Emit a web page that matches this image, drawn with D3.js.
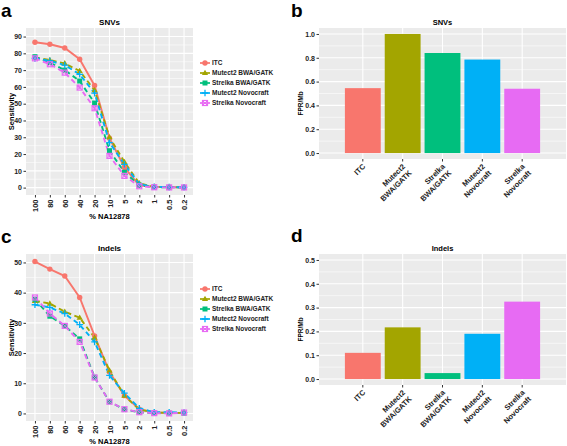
<!DOCTYPE html>
<html><head><meta charset="utf-8">
<script src="https://cdn.jsdelivr.net/npm/d3@7"></script>
<style>body{margin:0;background:#fff}svg{display:block;font-family:"Liberation Sans",Arial,sans-serif}</style>
</head><body><svg id="c" width="567" height="446"></svg>
<script>
const pct = ["100","80","60","40","20","10","5","2","1","0.5","0.2"];
const methods = ["ITC","Mutect2 BWA/GATK","Strelka BWA/GATK","Mutect2 Novocraft","Strelka Novocraft"];
const barLabels = [["ITC"],["Mutect2","BWA/GATK"],["Strelka","BWA/GATK"],["Mutect2","Novocraft"],["Strelka","Novocraft"]];
const colors = ["#F8766D","#A3A500","#00BF7D","#00B0F6","#E76BF3"];
const shapes = ["circle","triangle","square","plus","boxx"];

const snvITC    = [86.6,85.4,83.2,76.5,60.8,29.5,12.0,1.2,0.5,0.3,0.2];
const snvM2BWA  = [77.5,76.0,74.0,69.5,58.0,30.0,15.3,2.5,0.5,0.3,0.2];
const snvStBWA  = [78.0,74.5,70.0,63.5,50.4,22.0,9.2,1.5,0.3,0.2,0.1];
const snvM2Novo = [77.0,75.5,73.0,67.5,56.3,26.8,13.9,2.0,0.5,0.3,0.2];
const snvStNovo = [77.0,73.5,68.5,59.6,47.3,18.9,7.0,0.8,0.2,0.1,0.1];

const indITC    = [50.3,47.8,45.5,38.4,25.7,13.7,5.9,1.4,0.3,0.2,0.2];
const indM2BWA  = [37.3,36.4,33.7,31.7,25.1,14.2,5.9,1.3,0.3,0.2,0.2];
const indStBWA  = [37.8,32.2,29.0,24.7,12.0,3.9,1.3,0.4,0.1,0.1,0.1];
const indM2Novo = [36.0,35.1,33.1,29.4,23.7,12.6,6.7,1.7,0.4,0.4,0.3];
const indStNovo = [38.4,33.1,29.0,23.7,11.9,3.9,1.4,0.4,0.1,0.0,0.3];

const fprSNV   = [0.545,1.0,0.84,0.785,0.54];
const fprIndel = [0.11,0.217,0.025,0.19,0.325];

const snvTicks = [0,10,20,30,40,50,60,70,80,90];
const indTicks = [0,10,20,30,40,50];
const fprSNVTicks = [0,0.2,0.4,0.6,0.8,1.0];
const fprIndTicks = [0,0.1,0.2,0.3,0.4,0.5];

const svg = d3.select("#c");
const BG="#EBEBEB";

function letter(t,x,y){
  svg.append("text").attr("x",x).attr("y",y).attr("font-size",19).attr("font-weight","bold").attr("fill","#000").text(t);
}

function drawShape(g,shape,x,y,col){
  if(shape==="circle") g.append("circle").attr("cx",x).attr("cy",y).attr("r",2.7).attr("fill",col);
  else if(shape==="triangle") g.append("path").attr("d",`M${x},${y-3.3}L${x+3.1},${y+2.1}L${x-3.1},${y+2.1}Z`).attr("fill",col);
  else if(shape==="square") g.append("rect").attr("x",x-2.5).attr("y",y-2.5).attr("width",5).attr("height",5).attr("fill",col);
  else if(shape==="plus") g.append("path").attr("d",`M${x-3.3},${y}H${x+3.3}M${x},${y-3.3}V${y+3.3}`).attr("stroke",col).attr("stroke-width",1.3);
  else { g.append("rect").attr("x",x-2.5).attr("y",y-2.5).attr("width",5).attr("height",5).attr("fill","none").attr("stroke",col).attr("stroke-width",1.2);
         g.append("path").attr("d",`M${x-2.5},${y-2.5}L${x+2.5},${y+2.5}M${x+2.5},${y-2.5}L${x-2.5},${y+2.5}`).attr("stroke",col).attr("stroke-width",1); }
}

function yAxisGrid(g,y,x0,x1,ticks,fmt){
  for(let i=0;i<ticks.length-1;i++){
    const m=(ticks[i]+ticks[i+1])/2;
    g.append("line").attr("x1",x0).attr("x2",x1).attr("y1",y(m)).attr("y2",y(m)).attr("stroke","#fff").attr("stroke-width",0.55);
  }
  ticks.forEach(t=>{
    g.append("line").attr("x1",x0).attr("x2",x1).attr("y1",y(t)).attr("y2",y(t)).attr("stroke","#fff").attr("stroke-width",1.1);
  });
  const ax=g.append("g").attr("transform",`translate(${x0},0)`).call(d3.axisLeft(y).tickValues(ticks).tickSize(2.5).tickPadding(1.5).tickFormat(fmt));
  ax.select(".domain").remove();
  ax.selectAll("line").attr("stroke","#333");
  ax.selectAll("text").attr("font-size",7).attr("font-weight","bold").attr("fill","#222").attr("font-family","Liberation Sans, Arial, sans-serif");
}

function linePanel(top, title, series, ticks, domain, xtitleY){
  const x0=26,x1=193,y0=top,y1=top+167;
  const g=svg.append("g");
  const x=d3.scalePoint().domain(pct).range([x0,x1]).padding(0.6);
  const y=d3.scaleLinear().domain(domain).range([y1,y0]);
  g.append("rect").attr("x",x0).attr("y",y0).attr("width",x1-x0).attr("height",y1-y0).attr("fill",BG);
  pct.forEach(p=>g.append("line").attr("x1",x(p)).attr("x2",x(p)).attr("y1",y0).attr("y2",y1).attr("stroke","#fff").attr("stroke-width",1.1));
  yAxisGrid(g,y,x0,x1,ticks,d3.format("d"));
  const xa=g.append("g").attr("transform",`translate(0,${y1})`).call(d3.axisBottom(x).tickSize(2.5).tickPadding(2));
  xa.select(".domain").remove();
  xa.selectAll("line").attr("stroke","#333");
  xa.selectAll("text").attr("font-size",7.5).attr("font-weight","bold").attr("fill","#222").attr("font-family","Liberation Sans, Arial, sans-serif")
    .attr("transform","rotate(-90)").attr("text-anchor","end").attr("x",-4.5).attr("y",0).attr("dy","0.35em");
  const line=d3.line().x((d,i)=>x(pct[i])).y(d=>y(d));
  series.forEach((s,k)=>{
    g.append("path").datum(s).attr("d",line).attr("fill","none").attr("stroke",colors[k]).attr("stroke-width",1.9)
      .attr("stroke-dasharray",k===0?null:"5,3.5");
  });
  series.forEach((s,k)=>{ s.forEach((v,i)=>drawShape(g,shapes[k],x(pct[i]),y(v),colors[k])); });
  g.append("text").attr("x",(x0+x1)/2).attr("y",y0-3).attr("text-anchor","middle").attr("font-size",8).attr("font-weight","bold").text(title);
  g.append("text").attr("transform",`translate(14,${(y0+y1)/2}) rotate(-90)`).attr("text-anchor","middle").attr("font-size",7.5).attr("font-weight","bold").text("Sensitivity");
  g.append("text").attr("x",(x0+x1)/2).attr("y",xtitleY).attr("text-anchor","middle").attr("font-size",7.5).attr("font-weight","bold").text("% NA12878");
  const ly=top+35;
  methods.forEach((m,k)=>{
    const yy=ly+k*10;
    g.append("line").attr("x1",200).attr("x2",210).attr("y1",yy).attr("y2",yy).attr("stroke",colors[k]).attr("stroke-width",1.7);
    drawShape(g,shapes[k],205,yy,colors[k]);
    g.append("text").attr("x",212).attr("y",yy).attr("dy","0.35em").attr("font-size",6.5).attr("font-weight","bold").attr("fill","#222").text(m);
  });
}

function barPanel(top, title, vals, ticks, domain){
  const x0=319,x1=566,y0=top,y1=top+131;
  const g=svg.append("g");
  const x=d3.scaleBand().domain(methods).range([x0,x1]).paddingInner(0.1).paddingOuter(0.65);
  const y=d3.scaleLinear().domain(domain).range([y1,y0]);
  g.append("rect").attr("x",x0).attr("y",y0).attr("width",x1-x0).attr("height",y1-y0).attr("fill",BG);
  methods.forEach(m=>{const c=x(m)+x.bandwidth()/2; g.append("line").attr("x1",c).attr("x2",c).attr("y1",y0).attr("y2",y1).attr("stroke","#fff").attr("stroke-width",1.1);});
  yAxisGrid(g,y,x0,x1,ticks,d3.format(".1f"));
  vals.forEach((v,i)=>{
    g.append("rect").attr("x",x(methods[i])).attr("width",x.bandwidth()).attr("y",y(v)).attr("height",y(0)-y(v)).attr("fill",colors[i]);
  });
  methods.forEach((m,i)=>{
    const c=x(m)+x.bandwidth()/2;
    g.append("line").attr("x1",c).attr("x2",c).attr("y1",y1).attr("y2",y1+2.5).attr("stroke","#333");
    const t=g.append("text").attr("transform",`translate(${c+3},${y1+8}) rotate(-45)`).attr("text-anchor","end")
      .attr("font-size",7.5).attr("font-weight","bold").attr("fill","#222");
    barLabels[i].forEach((l,j)=>t.append("tspan").attr("x",0).attr("dy",j===0?"0":"1.2em").text(l));
  });
  g.append("text").attr("x",(x0+x1)/2).attr("y",y0-3).attr("text-anchor","middle").attr("font-size",7.5).attr("font-weight","bold").text(title);
  g.append("text").attr("transform",`translate(303,${(y0+y1)/2+10}) rotate(-90)`).attr("text-anchor","middle").attr("font-size",6.5).attr("font-weight","bold").text("FPR/Mb");
}

letter("a",1,17);
letter("b",291,17);
letter("c",1,243);
letter("d",291,242);
linePanel(28,"SNVs",[snvITC,snvM2BWA,snvStBWA,snvM2Novo,snvStNovo],snvTicks,[-4.4,95.1],219);
linePanel(254,"Indels",[indITC,indM2BWA,indStBWA,indM2Novo,indStNovo],indTicks,[-2.5,52.8],444);
barPanel(28,"SNVs",fprSNV,fprSNVTicks,[-0.05,1.05]);
barPanel(254,"Indels",fprIndel,fprIndTicks,[-0.025,0.525]);
</script></body></html>
